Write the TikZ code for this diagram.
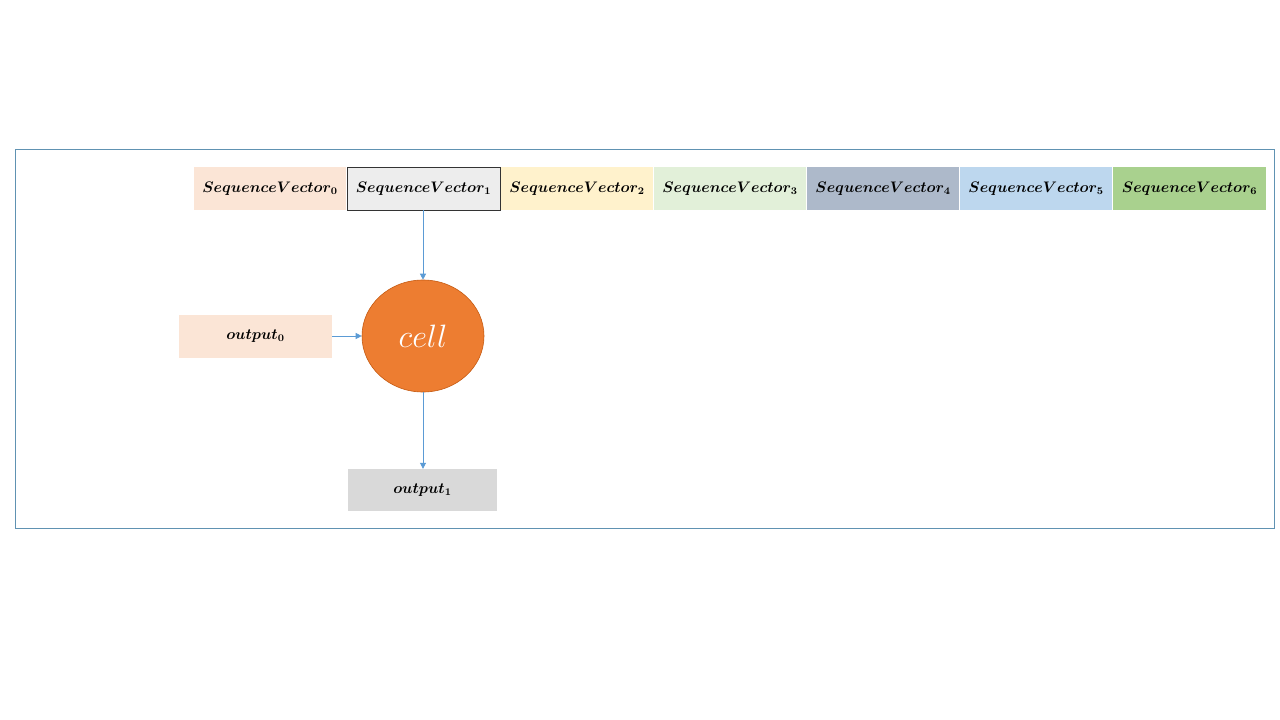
\documentclass[tikz,border=0pt]{standalone}
\usepackage{amsmath,bm,graphicx}
\usetikzlibrary{arrows.meta,shapes.geometric}
\definecolor{frameC}{RGB}{96,146,178}
\definecolor{arrC}{RGB}{91,155,213}
\definecolor{c0}{HTML}{FBE5D6}
\definecolor{c1}{HTML}{EDEDED}
\definecolor{c2}{HTML}{FFF2CC}
\definecolor{c3}{HTML}{E2F0D9}
\definecolor{c4}{HTML}{ADB9CA}
\definecolor{c5}{HTML}{BDD7EE}
\definecolor{c6}{HTML}{A9D18E}
\definecolor{cellC}{HTML}{ED7D31}
\definecolor{cellB}{HTML}{C55A11}
\definecolor{o1}{HTML}{D9D9D9}
\newcommand{\bx}[1]{\scalebox{1.27}{$\bm{#1}$}}
\tikzset{
  vecbox/.style={draw=none, minimum width=152pt, minimum height=43pt, inner sep=0pt, font=\fontsize{12}{14}\selectfont},
  outbox/.style={draw=none, minimum width=152pt, minimum height=43pt, inner sep=0pt, font=\fontsize{12}{14}\selectfont},
  conn/.style={draw=arrC, line width=0.8pt, -{Triangle[length=6pt,width=6pt]}},
}
\begin{document}
\begin{tikzpicture}[x=1pt,y=-1pt]
\useasboundingbox (0,0) rectangle (1280,720);
\fill[white] (0,0) rectangle (1280,720);
\draw[frameC, line width=0.8pt] (15,149) rectangle (1274,528);
\node[vecbox, fill=c0] (v0) at (270,188.5) {\bx{SequenceVector_0}};
\node[vecbox, fill=c1, draw=black!80, line width=0.8pt, minimum width=153pt] (v1) at (423.5,188.5) {\bx{SequenceVector_1}};
\node[vecbox, fill=c2] (v2) at (577,188.5) {\bx{SequenceVector_2}};
\node[vecbox, fill=c3] (v3) at (730,188.5) {\bx{SequenceVector_3}};
\node[vecbox, fill=c4] (v4) at (883,188.5) {\bx{SequenceVector_4}};
\node[vecbox, fill=c5] (v5) at (1036,188.5) {\bx{SequenceVector_5}};
\node[vecbox, fill=c6, minimum width=153pt] (v6) at (1189.5,188.5) {\bx{SequenceVector_6}};
\node[ellipse, fill=cellC, draw=cellB, line width=0.6pt, minimum width=122pt, minimum height=112pt, inner sep=0pt, text=white, font=\Huge] (cell) at (423,336) {\scalebox{1.3}{$cell$}};
\node[outbox, fill=c0, minimum width=153pt] (o0) at (255.5,336) {\bx{output_0}};
\node[outbox, fill=o1, minimum width=149pt, minimum height=42pt] (o1) at (422.5,490) {\bx{output_1}};
\draw[conn] (v1.south -| cell.north) -- (cell.north);
\draw[conn] (o0.east) -- (o0.east -| cell.west);
\draw[conn] (cell.south) -- (cell.south |- o1.north);
\end{tikzpicture}
\end{document}
